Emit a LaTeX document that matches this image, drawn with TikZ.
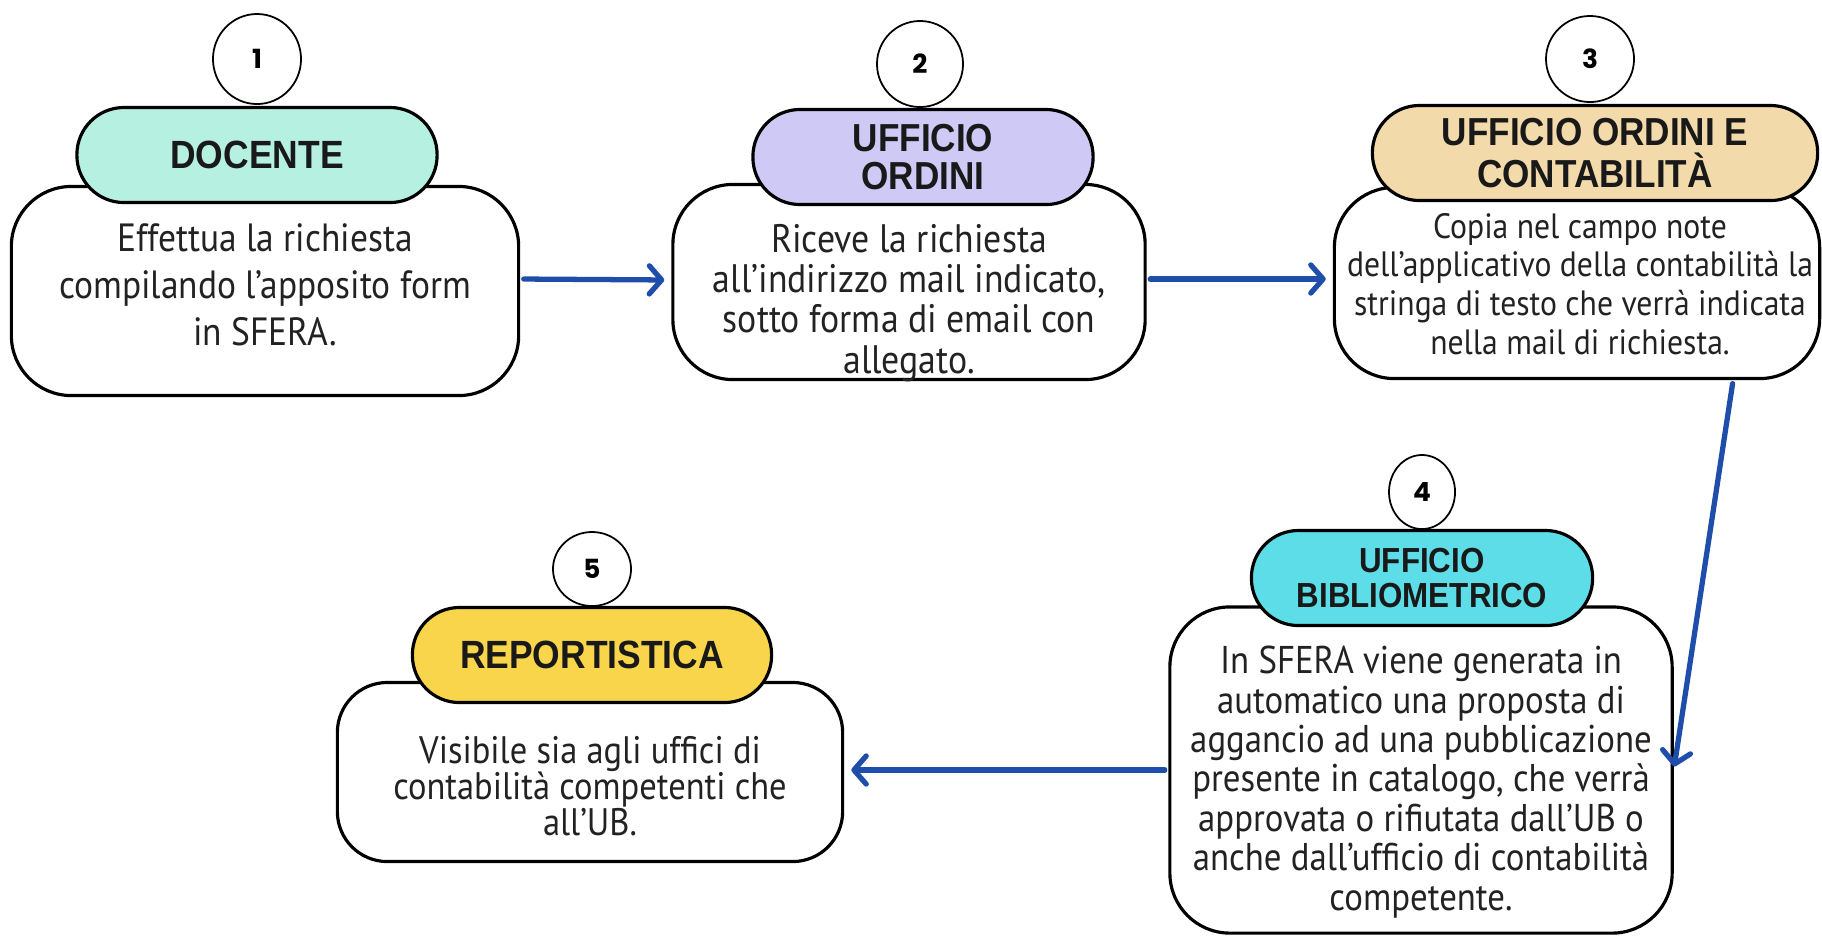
\documentclass[tikz,border=0pt]{standalone}
\usepackage{fontspec}
\setmainfont{PT Sans}[FakeStretch=0.9]
\newfontfamily\headfont{Liberation Sans}[FakeStretch=0.9]
\newfontfamily\numfont{Poppins}
\usetikzlibrary{arrows.meta}
\usetikzlibrary{calc}
\usetikzlibrary{shapes.geometric}

\definecolor{mint}{RGB}{182,240,224}
\definecolor{lavender}{RGB}{206,201,245}
\definecolor{sand}{RGB}{242,218,170}
\definecolor{aqua}{RGB}{92,221,231}
\definecolor{sun}{RGB}{248,213,74}
\definecolor{flowblue}{RGB}{30,78,170}
\definecolor{ink}{RGB}{34,34,34}

\begin{document}
\begin{tikzpicture}[x=0.01cm, y=-0.01cm,
  body/.style={draw, line width=0.9pt, rounded corners=0.6cm, fill=white, inner sep=0pt},
  txt/.style={align=center, text=ink, inner sep=0pt},
  head/.style={draw, line width=0.9pt, rounded corners=0.47cm, minimum height=0.95cm,
    align=center, inner sep=0pt, text=black!90,
    font=\headfont\bfseries\fontsize{11.2}{12}\selectfont},
  num/.style={draw, ellipse, line width=0.5pt, fill=white, inner sep=0pt,
    font=\numfont\bfseries\fontsize{7.5}{8}\selectfont},
  flow/.style={draw=flowblue, line width=1.5pt, line cap=round,
    -{Straight Barb[length=3.5pt,width=8pt,round]}}]
\useasboundingbox (0,0) rectangle (1822,935);

% white boxes
\node[body, minimum width=5.07cm, minimum height=2.09cm] (b1) at (265,291) {};
\node[body, minimum width=4.72cm, minimum height=1.95cm] (b2) at (909,282) {};
\node[body, minimum width=4.85cm, minimum height=1.91cm] (b3) at (1577,283) {};
\node[body, minimum width=5.02cm, minimum height=3.26cm] (b4) at (1421,770) {};
\node[body, minimum width=5.05cm, minimum height=1.79cm, rounded corners=0.5cm] (b5) at (590,772) {};

\node[txt, font=\fontsize{11.2}{13.4}\selectfont] (t1) at (265,285)
  {Effettua la richiesta\\compilando l’apposito form\\in SFERA.};
\node[txt, font=\fontsize{11.3}{11.4}\selectfont] (t2) at (909,303)
  {Riceve la richiesta\\all’indirizzo mail indicato,\\sotto forma di email con\\allegato.};
\node[txt, font=\fontsize{10}{11}\selectfont] (t3) at (1580,284)
  {Copia nel campo note\\dell’applicativo della contabilità la\\stringa di testo che verrà indicata\\nella mail di richiesta.};
\node[txt, font=\fontsize{11}{11.2}\selectfont] (t4) at (1421,782)
  {In SFERA viene generata in\\automatico una proposta di\\aggancio ad una pubblicazione\\presente in catalogo, che verrà\\approvata o rifiutata dall’UB o\\anche dall’ufficio di contabilità\\competente.};
\node[txt, font=\fontsize{10.9}{10.3}\selectfont] (t5) at (590,786)
  {Visibile sia agli uffici di\\contabilità competenti che\\all’UB.};

% coloured titles
\node[head, fill=mint, minimum width=3.60cm] (h1) at (257,155) {DOCENTE};
\node[head, fill=lavender, minimum width=3.40cm, font=\headfont\bfseries\fontsize{11.1}{10.8}\selectfont]
  (h2) at (923,157) {UFFICIO\\ORDINI};
\node[head, fill=sand, minimum width=4.45cm, font=\headfont\bfseries\fontsize{11.1}{12.2}\selectfont]
  (h3) at (1595,153) {UFFICIO ORDINI E\\CONTABILITÀ};
\node[head, fill=aqua, minimum width=3.41cm, font=\headfont\bfseries\fontsize{9.9}{10}\selectfont]
  (h4) at (1422,578) {UFFICIO\\BIBLIOMETRICO};
\node[head, fill=sun, minimum width=3.59cm] (h5) at (592,655) {REPORTISTICA};

% step numbers
\node[num, minimum width=0.88cm, minimum height=0.90cm] (n1) at (257,59) {1};
\node[num, minimum width=0.86cm, minimum height=0.86cm] (n2) at (920,64) {2};
\node[num, minimum width=0.88cm, minimum height=0.86cm] (n3) at (1590,59) {3};
\node[num, minimum width=0.66cm, minimum height=0.74cm] (n4) at (1422,492) {4};
\node[num, minimum width=0.78cm, minimum height=0.74cm] (n5) at (592,569) {5};

% arrows
\draw[flow, shorten <=1pt, shorten >=2pt] ([yshift=0.12cm]b1.east) -- ([yshift=0.02cm]b2.west);
\draw[flow, shorten <=1pt, shorten >=2pt] ([yshift=0.03cm]b2.east) -- ([yshift=0.04cm]b3.west);
\draw[flow, shorten <=1pt, shorten >=1pt] ([xshift=1.56cm]b3.south) -- (b4.east);
\draw[flow, shorten <=1pt, shorten >=2pt] (b4.west) -- (b4.west -| b5.east);
\end{tikzpicture}
\end{document}
